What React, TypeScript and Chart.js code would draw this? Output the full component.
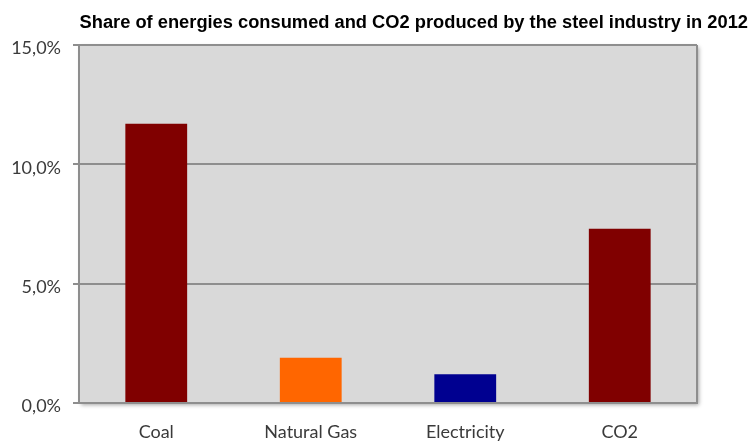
import React, { useEffect, useRef } from "react";
import { Chart, registerables } from "chart.js";

Chart.register(...registerables);

const TITLE = "Share of energies consumed and CO2 produced by the steel industry in 2012";
const categories = ["Coal", "Natural Gas", "Electricity", "CO2"];
const shares = [11.7, 1.9, 1.2, 7.3];
const barColors = ["#800000", "#ff6600", "#000090", "#800000"];
const yTicks = [0, 5, 10, 15];

const GRID = "#8e8e8e";
const TICK_FONT = { family: "Lato, 'Open Sans', sans-serif", size: 18 };

// Grey plot panel with a soft drop shadow, plus the right-hand frame edge.
const panelPlugin = {
  id: "panel",
  beforeDraw(chart: any) {
    const { ctx, chartArea: a } = chart;
    ctx.save();
    ctx.shadowColor = "rgba(0,0,0,0.35)";
    ctx.shadowBlur = 4;
    ctx.shadowOffsetX = 1.5;
    ctx.shadowOffsetY = 1.5;
    ctx.fillStyle = "#d9d9d9";
    ctx.fillRect(a.left, a.top, a.right - a.left, a.bottom - a.top);
    ctx.restore();
  },
  beforeDatasetsDraw(chart: any) {
    const { ctx, chartArea: a } = chart;
    ctx.save();
    ctx.strokeStyle = GRID;
    ctx.lineWidth = 2;
    ctx.beginPath();
    ctx.moveTo(a.right, a.top);
    ctx.lineTo(a.right, a.bottom);
    ctx.stroke();
    ctx.restore();
  },
};

// Chart heading, set to the right above the panel.
const headingPlugin = {
  id: "heading",
  afterDraw(chart: any) {
    const { ctx } = chart;
    ctx.save();
    ctx.font = "bold 18.3px 'Liberation Sans', Arial, sans-serif";
    ctx.fillStyle = "#000";
    ctx.textAlign = "right";
    ctx.textBaseline = "alphabetic";
    ctx.fillText(TITLE, chart.width - 3, 28);
    ctx.restore();
  },
};

export default function App() {
  const ref = useRef<HTMLCanvasElement | null>(null);

  useEffect(() => {
    document.body.style.margin = "0";
    const canvas = ref.current;
    if (!canvas) return;
    const chart = new Chart(canvas, {
      type: "bar",
      data: {
        labels: categories,
        datasets: [
          {
            data: shares,
            backgroundColor: barColors,
            borderWidth: 0,
            categoryPercentage: 1,
            barPercentage: 0.4,
          },
        ],
      },
      options: {
        animation: false,
        responsive: false,
        layout: { padding: { top: 45, left: 0, right: 54, bottom: 0 } },
        plugins: {
          legend: { display: false },
          tooltip: { enabled: false },
          title: { display: false },
        },
        scales: {
          x: {
            grid: { display: false, drawTicks: false },
            border: { display: true, color: GRID, width: 2 },
            ticks: { color: "#3a3a3a", font: TICK_FONT, padding: 18 },
            afterFit(scale: any) {
              scale.height = 40;
            },
          },
          y: {
            min: 0,
            max: 15,
            afterBuildTicks(scale: any) {
              scale.ticks = yTicks.map((v) => ({ value: v }));
            },
            grid: { color: GRID, lineWidth: 2, tickLength: 6, tickColor: GRID },
            border: { display: true, color: GRID, width: 2 },
            ticks: {
              color: "#3a3a3a",
              font: TICK_FONT,
              padding: 12,
              labelOffset: 3.5,
              callback: (v: any) => Number(v).toFixed(1).replace(".", ",") + "%",
            },
            afterFit(scale: any) {
              scale.width = 79;
            },
          },
        },
      },
      plugins: [panelPlugin, headingPlugin],
    });
    return () => chart.destroy();
  }, []);

  return (
    <div style={{ width: 751, height: 443 }}>
      <canvas ref={ref} width={751} height={443} style={{ display: "block" }} />
    </div>
  );
}
